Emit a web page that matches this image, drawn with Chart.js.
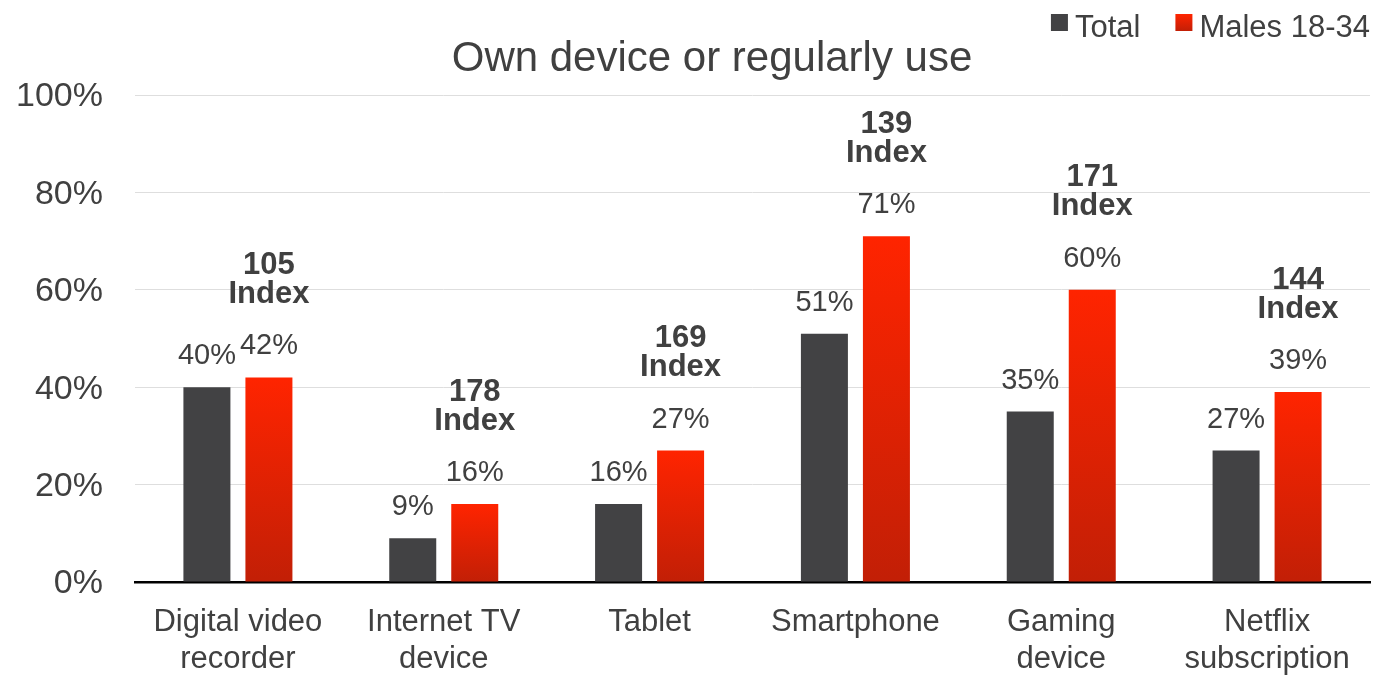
<!DOCTYPE html>
<html>
<head>
<meta charset="utf-8">
<title>Own device or regularly use</title>
<script src="https://cdn.jsdelivr.net/npm/chart.js@4/dist/chart.umd.min.js"></script>
<style>
  html, body { margin: 0; padding: 0; background: #ffffff; }
  #wrap { width: 1374px; height: 676px; }
</style>
</head>
<body>
<div id="wrap"><canvas id="chart" width="1374" height="676"></canvas></div>
<script>
// Device ownership / regular use, all adults vs. males 18-34
const categories = [
  ['Digital video', 'recorder'],
  ['Internet TV', 'device'],
  ['Tablet'],
  ['Smartphone'],
  ['Gaming', 'device'],
  ['Netflix', 'subscription']
];
const seriesNames = ['Total', 'Males 18-34'];
const totalValues = [40, 9, 16, 51, 35, 27];
const malesValues = [42, 16, 27, 71, 60, 39];
const indexValues = [105, 178, 169, 139, 171, 144];
const yTicks = [0, 20, 40, 60, 80, 100];

const FONT = '"Liberation Sans", Arial, Helvetica, sans-serif';
const TEXT = '#404040';
const TITLE = 'Own device or regularly use';
const RED_TOP = '#FF2400';
const RED_BASE = '#C21F06';

function vGradient(c, top, base) {
  const g = c.createLinearGradient(0, top, 0, base);
  g.addColorStop(0, RED_TOP);
  g.addColorStop(1, RED_BASE);
  return g;
}

// red bars fade from bright red at the top to a deeper red at the base
function redFill(ctx) {
  const chart = ctx.chart;
  if (ctx.type !== 'data' || !chart.chartArea || !chart.scales.y) return '#F52200';
  const y = chart.scales.y;
  const top = y.getPixelForValue(ctx.raw);
  const base = y.getPixelForValue(0);
  if (!isFinite(top) || !isFinite(base)) return '#F52200';
  return vGradient(chart.ctx, top, base);
}

// header band: legend at the top right, chart title below it
const headerPlugin = {
  id: 'headerBand',
  afterInit(chart) {
    const box = {
      position: 'top', weight: 500, fullSize: true,
      options: {},
      left: 0, top: 0, right: 0, bottom: 0, width: 0, height: 0,
      isHorizontal() { return true; },
      update(maxWidth) { this.width = maxWidth; this.height = 95; },
      draw() {
        const c = chart.ctx;
        c.save();
        // legend, laid out right to left so it ends at the plot's right edge
        c.font = '31px ' + FONT;
        c.textBaseline = 'alphabetic';
        c.textAlign = 'left';
        const sw = 17, gap = 7, itemGap = 35, boxTop = 14, baseY = 37;
        const items = chart.data.datasets.map((ds, i) => ({
          text: ds.label, i, w: c.measureText(ds.label).width
        }));
        let x = chart.chartArea.right;
        for (let k = items.length - 1; k >= 0; k--) {
          const it = items[k];
          x -= it.w;
          const tx = x;
          x -= gap + sw;
          const bx = x;
          c.fillStyle = it.i === 0 ? '#424244' : vGradient(c, boxTop, boxTop + sw);
          c.fillRect(bx, boxTop, sw, sw);
          c.fillStyle = TEXT;
          c.fillText(it.text, tx, baseY);
          x -= itemGap;
        }
        // title
        c.font = '42px ' + FONT;
        c.fillStyle = TEXT;
        c.textAlign = 'center';
        c.textBaseline = 'middle';
        c.fillText(TITLE, chart.width / 2 + 25, 59);
        c.restore();
      }
    };
    Chart.layouts.addBox(chart, box);
  }
};

// percentage labels over every bar, index labels over the red bars
const labelPlugin = {
  id: 'barLabels',
  afterDatasetsDraw(chart) {
    const c = chart.ctx;
    c.save();
    c.fillStyle = TEXT;
    c.textAlign = 'center';
    c.textBaseline = 'middle';
    chart.data.datasets.forEach((ds, di) => {
      const meta = chart.getDatasetMeta(di);
      meta.data.forEach((bar, i) => {
        c.font = '29px ' + FONT;
        c.fillText(ds.data[i] + '%', bar.x, bar.y - 31);
        if (di === 1) {
          c.font = 'bold 31px ' + FONT;
          c.fillText(String(indexValues[i]), bar.x, bar.y - 112);
          c.fillText('Index', bar.x, bar.y - 83);
        }
      });
    });
    c.restore();
  }
};

new Chart(document.getElementById('chart'), {
  type: 'bar',
  data: {
    labels: categories,
    datasets: [
      {
        label: seriesNames[0],
        data: totalValues,
        backgroundColor: '#424244',
        borderWidth: 0,
        categoryPercentage: 0.6025,
        barPercentage: 0.758
      },
      {
        label: seriesNames[1],
        data: malesValues,
        backgroundColor: redFill,
        borderWidth: 0,
        categoryPercentage: 0.6025,
        barPercentage: 0.758
      }
    ]
  },
  options: {
    responsive: false,
    animation: false,
    layout: { padding: { left: 0, right: 4, top: 0, bottom: 0 } },
    plugins: {
      title: { display: false },
      tooltip: { enabled: false },
      legend: { display: false }
    },
    scales: {
      x: {
        grid: { display: false, drawTicks: false },
        border: { display: true, color: '#000000', width: 2.5 },
        ticks: {
          color: TEXT,
          padding: 22,
          maxRotation: 0,
          autoSkip: false,
          font: { family: FONT, size: 31, lineHeight: 1.2 }
        },
        afterFit(s) { s.height = 94; }
      },
      y: {
        min: 0,
        max: 100,
        afterBuildTicks(s) { s.ticks = yTicks.map(v => ({ value: v })); },
        grid: {
          drawTicks: false,
          color: (ctx) => ctx.tick && ctx.tick.value === 0 ? 'rgba(0,0,0,0)' : '#dedede',
          lineWidth: 1
        },
        border: { display: false },
        ticks: {
          color: TEXT,
          padding: 32,
          labelOffset: 2,
          font: { family: FONT, size: 34 },
          callback: (v) => v + '%'
        },
        afterFit(s) { s.width = 135; }
      }
    }
  },
  plugins: [headerPlugin, labelPlugin]
});
</script>
</body>
</html>
